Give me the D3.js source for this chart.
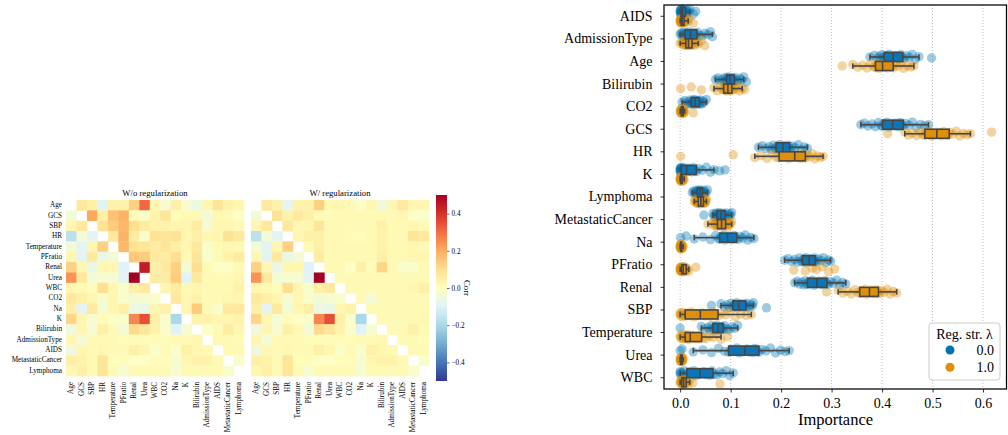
<!DOCTYPE html>
<html>
<head>
<meta charset="utf-8">
<script src="https://cdn.jsdelivr.net/npm/d3@7"></script>
<style>
  body { margin: 0; background: #fff; }
  svg { display: block; }
  text { font-family: "Liberation Serif", "DejaVu Serif", serif; fill: #000; }
</style>
</head>
<body>
<div id="chart"></div>
<script>
/* heatmap data: rows / columns in the same order */
const features = ["Age","GCS","SBP","HR","Temperature","PFratio","Renal","Urea","WBC","CO2","Na","K","Bilirubin","AdmissionType","AIDS","MetastaticCancer","Lymphoma"]

const corrNoReg = [
  [null,0.07,0.05,-0.1,0.04,0.04,0.13,0.31,0.03,-0.03,0.05,-0.03,-0.06,0.03,0.08,0.04,0.03],
  [-0.04,null,0.21,0.05,0.16,0.19,0.01,-0.02,0.04,0.08,0.01,0.02,0.02,-0.04,0.03,0.02,-0.01],
  [0.03,0.07,null,0.09,0.14,0.18,0.1,0.06,0.04,0.04,0.03,0.03,0.06,-0.03,0.03,0.03,0.02],
  [-0.17,-0.04,-0.09,null,0.07,0.19,0.06,-0.02,0.09,0.08,0.09,0.03,0.05,0.03,0.03,0.09,0.07],
  [-0.04,-0.09,0.03,0.13,null,0.18,0.09,0.08,0.06,0.08,0.05,0.03,0.07,-0.02,0.02,0.03,0.02],
  [0.03,-0.09,0.07,-0.07,-0.04,null,0.15,0.14,0.07,0.06,0.1,0.02,0.08,-0.02,0.02,0.04,0.06],
  [0.13,0.03,-0.07,0.03,0.03,-0.1,null,0.44,0.05,0.07,0.13,-0.04,0.1,0.02,-0.01,-0.01,0.02],
  [0.24,0.07,-0.04,-0.03,-0.03,-0.09,0.5,null,0.06,0.06,0.14,-0.1,0.07,0.02,0.02,0.02,0.03],
  [0.03,0.02,0.01,0.1,0.03,-0.02,0.05,0.07,null,0.03,0.06,0.02,0.03,0.02,0.02,0.02,0.04],
  [0.07,0.05,0.03,-0.03,0.03,-0.02,-0.04,-0.03,-0.02,null,0.07,0.03,0.04,0.02,0.02,0.03,0.03],
  [0.05,-0.09,0.07,-0.04,0.03,0.05,-0.06,-0.07,0.03,0.04,null,0.03,0.14,0.02,-0.02,0.07,0.07],
  [0.12,0.03,-0.03,0.01,-0.01,-0.02,0.26,0.35,0.05,-0.02,-0.2,null,0.04,0.04,0.03,0.03,0.04],
  [-0.05,0.03,-0.03,0.05,0.02,-0.04,0.11,0.08,0.04,-0.02,-0.1,-0.03,null,-0.01,0.02,0.06,0.03],
  [0.03,-0.04,0.02,0.02,0.02,0.01,0.01,0.01,0.01,0.01,0.02,0.02,0.03,null,0.02,0.02,0.01],
  [-0.05,0.03,0.02,0.03,0.02,0.02,0.05,0.03,-0.02,0.02,-0.02,0.05,0.03,0.02,null,0.02,0.02],
  [0.05,0.04,0.02,0.08,0.01,0.01,-0.01,-0.01,0.01,0.01,-0.03,0.03,0.04,0.04,0.02,null,-0.02],
  [0.03,0.05,0.02,0.08,0.02,-0.03,0.02,0.02,0.02,0.02,-0.03,0.02,0.02,0.02,0.02,-0.02,null]
]

const corrReg = [
  [null,0.07,0.04,-0.08,0.04,0.04,0.13,0.03,0.03,0.02,-0.01,0.03,-0.05,0.03,0.07,0.03,0.03],
  [-0.04,null,0.09,0.04,0.07,0.05,0.02,0.01,0.02,0.02,0.02,0.02,0.02,0.02,0.03,-0.01,-0.02],
  [0.03,0.07,null,0.07,0.03,0.03,0.08,0.02,0.02,0.02,0.02,0.02,0.05,0.02,0.02,0.03,0.02],
  [-0.17,-0.04,-0.09,null,0.03,0.05,0.05,0.02,0.02,0.01,0.01,0.02,0.04,0.02,0.02,0.08,0.07],
  [-0.04,-0.09,0.03,0.13,null,0.02,0.05,0.02,0.02,0.02,0.02,0.02,0.04,0.02,0.02,0.03,0.02],
  [0.03,-0.09,0.07,-0.07,-0.04,null,0.06,0.02,0.02,0.02,0.02,0.02,0.05,0.02,0.02,0.03,0.03],
  [0.13,0.03,-0.07,0.03,0.03,-0.1,null,0.02,0.02,-0.01,0.05,0.01,0.12,0.02,-0.02,-0.02,0.02],
  [0.24,0.07,-0.04,-0.03,-0.03,-0.09,0.5,null,0.02,0.02,0.02,0.02,0.02,0.02,0.02,0.02,0.02],
  [0.03,0.02,0.01,0.1,0.03,-0.02,0.05,0.07,null,0.02,0.02,0.02,0.02,0.02,0.02,0.03,0.05],
  [0.07,0.05,0.03,-0.03,0.03,-0.02,-0.04,-0.03,-0.02,null,0.02,-0.04,0.02,0.02,0.02,0.02,0.02],
  [0.05,-0.09,0.07,-0.04,0.03,0.05,-0.06,-0.07,0.03,0.04,null,0.02,0.02,0.02,0.02,0.02,0.02],
  [0.12,0.03,-0.03,0.01,-0.01,-0.02,0.26,0.35,0.05,-0.02,-0.2,null,0.02,0.02,0.02,0.02,0.03],
  [-0.05,0.03,-0.03,0.05,0.02,-0.04,0.11,0.08,0.04,-0.02,-0.1,-0.03,null,0.02,0.02,0.05,0.02],
  [0.03,-0.04,0.02,0.02,0.02,0.01,0.01,0.01,0.01,0.01,0.02,0.02,0.03,null,0.02,0.02,0.01],
  [-0.05,0.03,0.02,0.03,0.02,0.02,0.05,0.03,-0.02,0.02,-0.02,0.05,0.03,0.02,null,0.02,0.02],
  [0.05,0.04,0.02,0.08,0.01,0.01,-0.01,-0.01,0.01,0.01,-0.03,0.03,0.04,0.04,0.02,null,-0.02],
  [0.03,0.05,0.02,0.08,0.02,-0.03,0.02,0.02,0.02,0.02,-0.03,0.02,0.02,0.02,0.02,-0.02,null]
]

const corrTicks = [-0.4, -0.2, 0, 0.2, 0.4]

/* importance data: one list of runs per feature, per reg. strength */
const impFeatures = ["AIDS","AdmissionType","Age","Bilirubin","CO2","GCS","HR","K","Lymphoma","MetastaticCancer","Na","PFratio","Renal","SBP","Temperature","Urea","WBC"]
const lambdas = ["0.0", "1.0"]

const impLam0 = [
  [0.000,0.000,0.001,0.001,0.001,0.002,0.002,0.002,0.003,0.003,0.003,0.004,0.004,0.005,0.005,0.006,0.007,0.008,0.009,0.010,0.011,0.013,0.015,0.017,0.019,0.026,0.031],
  [0.000,0.002,0.004,0.006,0.007,0.008,0.009,0.011,0.013,0.015,0.017,0.019,0.020,0.021,0.023,0.025,0.027,0.029,0.031,0.034,0.038,0.043,0.049,0.055,0.060,0.064],
  [0.376,0.385,0.391,0.395,0.398,0.400,0.402,0.405,0.408,0.411,0.414,0.417,0.419,0.421,0.423,0.425,0.428,0.431,0.434,0.437,0.440,0.444,0.449,0.454,0.460,0.466,0.473,0.498],
  [0.070,0.075,0.080,0.084,0.087,0.090,0.092,0.093,0.094,0.095,0.096,0.097,0.098,0.099,0.100,0.101,0.102,0.104,0.106,0.108,0.111,0.114,0.118,0.122,0.126,0.131],
  [0.004,0.009,0.013,0.016,0.019,0.021,0.022,0.024,0.026,0.027,0.028,0.029,0.030,0.031,0.032,0.033,0.034,0.036,0.038,0.039,0.041,0.043,0.045,0.047,0.052],
  [0.358,0.365,0.372,0.380,0.387,0.393,0.398,0.401,0.404,0.407,0.410,0.413,0.416,0.419,0.421,0.424,0.427,0.430,0.433,0.436,0.439,0.442,0.447,0.453,0.460,0.468,0.476,0.484,0.492],
  [0.155,0.163,0.170,0.176,0.181,0.185,0.188,0.191,0.193,0.195,0.197,0.199,0.201,0.203,0.204,0.206,0.208,0.210,0.212,0.214,0.216,0.219,0.223,0.228,0.234,0.240,0.246,0.252],
  [0.000,0.000,0.000,0.001,0.001,0.001,0.001,0.002,0.003,0.004,0.005,0.007,0.009,0.011,0.013,0.015,0.017,0.020,0.023,0.026,0.029,0.032,0.037,0.044,0.052,0.060,0.067,0.078,0.089],
  [0.024,0.027,0.029,0.031,0.032,0.033,0.034,0.035,0.036,0.037,0.038,0.038,0.039,0.040,0.040,0.041,0.042,0.043,0.044,0.045,0.046,0.047,0.049,0.051,0.054],
  [0.047,0.065,0.067,0.069,0.071,0.072,0.073,0.075,0.076,0.077,0.078,0.080,0.081,0.082,0.083,0.084,0.085,0.087,0.089,0.091,0.093,0.095,0.098,0.100,0.102],
  [0.001,0.012,0.028,0.045,0.060,0.070,0.076,0.079,0.082,0.085,0.087,0.089,0.091,0.093,0.095,0.097,0.099,0.101,0.104,0.107,0.111,0.115,0.119,0.124,0.129,0.134,0.140,0.146],
  [0.207,0.214,0.221,0.227,0.232,0.236,0.240,0.243,0.245,0.247,0.249,0.251,0.253,0.255,0.256,0.258,0.260,0.262,0.264,0.266,0.267,0.270,0.274,0.279,0.284,0.289,0.294,0.298],
  [0.227,0.232,0.237,0.241,0.245,0.248,0.250,0.253,0.256,0.259,0.262,0.265,0.268,0.270,0.272,0.275,0.278,0.281,0.284,0.287,0.290,0.293,0.298,0.304,0.310,0.316,0.322,0.328],
  [0.062,0.081,0.087,0.093,0.097,0.101,0.104,0.106,0.108,0.110,0.112,0.114,0.115,0.117,0.119,0.121,0.123,0.125,0.128,0.131,0.134,0.137,0.140,0.143,0.145,0.171],
  [0.000,0.042,0.049,0.055,0.059,0.062,0.065,0.067,0.069,0.071,0.072,0.074,0.075,0.076,0.078,0.079,0.081,0.083,0.085,0.088,0.092,0.097,0.103,0.108,0.114],
  [0.000,0.004,0.026,0.045,0.062,0.076,0.088,0.096,0.102,0.107,0.112,0.117,0.121,0.125,0.128,0.132,0.136,0.140,0.144,0.148,0.152,0.156,0.162,0.170,0.179,0.189,0.199,0.208,0.216],
  [0.000,0.000,0.001,0.003,0.006,0.009,0.012,0.015,0.019,0.023,0.027,0.031,0.035,0.039,0.043,0.047,0.051,0.055,0.059,0.063,0.067,0.072,0.078,0.084,0.091,0.098,0.105]
]

const impLam1 = [
  [0.000,0.000,0.000,0.001,0.001,0.001,0.002,0.002,0.002,0.003,0.003,0.003,0.004,0.004,0.005,0.005,0.006,0.006,0.007,0.008,0.009,0.011,0.013,0.016,0.018,0.026],
  [0.000,0.003,0.005,0.007,0.009,0.010,0.011,0.012,0.013,0.014,0.015,0.016,0.016,0.017,0.018,0.019,0.020,0.021,0.022,0.024,0.027,0.030,0.033,0.036,0.042,0.049],
  [0.321,0.342,0.352,0.362,0.370,0.377,0.383,0.387,0.389,0.391,0.393,0.395,0.397,0.399,0.401,0.403,0.405,0.408,0.411,0.414,0.418,0.422,0.426,0.431,0.437,0.443,0.450,0.457,0.463],
  [0.001,0.022,0.042,0.067,0.073,0.079,0.084,0.087,0.089,0.090,0.091,0.092,0.093,0.094,0.095,0.096,0.097,0.098,0.099,0.100,0.102,0.104,0.107,0.110,0.114,0.118,0.123,0.128],
  [0.000,0.001,0.001,0.002,0.002,0.002,0.003,0.003,0.003,0.004,0.004,0.004,0.005,0.005,0.005,0.006,0.006,0.007,0.007,0.008,0.009,0.026],
  [0.411,0.445,0.452,0.460,0.468,0.475,0.480,0.484,0.487,0.490,0.494,0.498,0.501,0.504,0.507,0.510,0.513,0.516,0.519,0.522,0.526,0.530,0.534,0.540,0.547,0.554,0.561,0.568,0.575,0.617],
  [0.001,0.105,0.148,0.160,0.172,0.182,0.190,0.196,0.201,0.206,0.211,0.215,0.219,0.223,0.227,0.230,0.233,0.236,0.239,0.242,0.245,0.248,0.252,0.257,0.262,0.267,0.272,0.278,0.283],
  [0.000,0.000,0.000,0.001,0.001,0.001,0.001,0.002,0.002,0.002,0.002,0.003,0.003,0.003,0.004,0.004,0.005,0.005,0.006,0.007,0.008],
  [0.028,0.030,0.032,0.033,0.034,0.035,0.036,0.037,0.038,0.039,0.040,0.040,0.041,0.042,0.042,0.043,0.044,0.045,0.046,0.047,0.048,0.049,0.050,0.051,0.052],
  [0.055,0.065,0.067,0.069,0.071,0.072,0.074,0.075,0.077,0.078,0.079,0.081,0.082,0.083,0.084,0.085,0.086,0.088,0.090,0.092,0.094,0.096,0.098,0.100,0.102],
  [0.000,0.000,0.000,0.001,0.001,0.001,0.001,0.002,0.002,0.002,0.002,0.003,0.003,0.003,0.004,0.004,0.005,0.006],
  [0.000,0.000,0.000,0.001,0.001,0.001,0.002,0.002,0.002,0.003,0.003,0.003,0.004,0.004,0.004,0.005,0.005,0.005,0.006,0.006,0.006,0.007,0.007,0.008,0.008,0.009,0.009,0.010,0.010,0.011,0.012,0.014,0.017,0.031,0.225,0.248,0.262,0.270,0.281,0.294,0.306],
  [0.290,0.313,0.322,0.331,0.339,0.346,0.352,0.357,0.360,0.363,0.366,0.369,0.372,0.374,0.376,0.378,0.380,0.383,0.386,0.389,0.392,0.395,0.399,0.404,0.410,0.416,0.422,0.429],
  [0.000,0.000,0.001,0.002,0.004,0.005,0.007,0.010,0.014,0.018,0.022,0.027,0.032,0.036,0.040,0.044,0.049,0.054,0.060,0.065,0.069,0.075,0.082,0.090,0.099,0.109,0.120,0.131,0.141],
  [0.000,0.001,0.002,0.004,0.005,0.007,0.009,0.011,0.012,0.014,0.015,0.017,0.018,0.020,0.022,0.025,0.028,0.032,0.036,0.040,0.045,0.051,0.058,0.065,0.073,0.081,0.094],
  [0.000,0.000,0.001,0.001,0.001,0.002,0.002,0.002,0.003,0.003,0.003,0.004,0.004,0.005,0.005,0.006],
  [0.000,0.001,0.001,0.002,0.003,0.003,0.004,0.005,0.005,0.006,0.007,0.007,0.008,0.009,0.010,0.011,0.012,0.014,0.016,0.019,0.025,0.079]
]

const impTicks = [0, 0.1, 0.2, 0.3, 0.4, 0.5, 0.6]

const svg = d3.select("#chart").append("svg")
  .attr("width", 1008)
  .attr("height", 435)

/* RdYlBu_r colormap, -0.5 .. 0.5 */
const rdylbu = ["#313695","#4575b4","#74add1","#abd9e9","#e0f3f8","#ffffbf","#fee090","#fdae61","#f46d43","#d73027","#a50026"]
const color = d3.scaleLinear()
  .domain(d3.range(11).map(i => -0.5 + i * 0.1))
  .range(rdylbu)
  .interpolate(d3.interpolateRgb)
  .clamp(true)

const serif = "'Liberation Serif', 'DejaVu Serif', serif"
const hmTop = 200, hmBottom = 376

function drawHeatmap(matrix, left, right, title, rowLabels) {
  const hx = d3.scaleBand().domain(features).range([left, right])
  const hy = d3.scaleBand().domain(features).range([hmTop, hmBottom])
  const g = svg.append("g")

  const cells = []
  matrix.forEach((row, i) => row.forEach((v, j) => {
    if (v !== null) cells.push({ r: features[i], c: features[j], v })
  }))

  g.selectAll("rect")
    .data(cells)
    .join("rect")
    .attr("x", d => hx(d.c))
    .attr("y", d => hy(d.r))
    .attr("width", hx.bandwidth() + 0.4)
    .attr("height", hy.bandwidth() + 0.4)
    .attr("fill", d => color(d.v))

  if (rowLabels) {
    g.selectAll(".rowlab")
      .data(features)
      .join("text")
      .attr("x", left - 4)
      .attr("y", d => hy(d) + hy.bandwidth() / 2)
      .attr("text-anchor", "end")
      .attr("dominant-baseline", "central")
      .style("font-size", "7.2px")
      .style("font-family", serif)
      .text(d => d)
  }

  g.selectAll(".collab")
    .data(features)
    .join("text")
    .attr("transform", d => `translate(${hx(d) + hx.bandwidth() / 2},${hmBottom + 6}) rotate(-90)`)
    .attr("text-anchor", "end")
    .attr("dominant-baseline", "central")
    .style("font-size", "7.2px")
    .style("font-family", serif)
    .text(d => d)

  g.append("text")
    .attr("x", (left + right) / 2)
    .attr("y", 196)
    .attr("text-anchor", "middle")
    .style("font-size", "8.7px")
    .style("font-family", serif)
    .text(title)
}

drawHeatmap(corrNoReg, 66, 244, "W/o regularization", true)
drawHeatmap(corrReg, 251, 429, "W/ regularization", false)

/* colorbar */
const cb = d3.scaleLinear().domain([-0.5, 0.5]).range([381, 195])
const grad = svg.append("defs").append("linearGradient")
  .attr("id", "cbgrad")
  .attr("x1", 0).attr("y1", 1).attr("x2", 0).attr("y2", 0)
grad.selectAll("stop")
  .data(rdylbu)
  .join("stop")
  .attr("offset", (d, i) => i / 10)
  .attr("stop-color", d => d)

svg.append("rect")
  .attr("x", 436).attr("y", cb(0.5))
  .attr("width", 11).attr("height", cb(-0.5) - cb(0.5))
  .attr("fill", "url(#cbgrad)")

const cbAxis = svg.append("g")
  .attr("transform", "translate(447,0)")
  .call(d3.axisRight(cb).tickValues(corrTicks).tickFormat(d3.format(".1f")).tickSize(2.5).tickPadding(2))
cbAxis.select(".domain").remove()
cbAxis.selectAll("line").attr("stroke-width", 0.6)
cbAxis.selectAll("text")
  .style("font-size", "7.2px")
  .style("font-family", serif)

svg.append("text")
  .attr("transform", "translate(467,288) rotate(90)")
  .attr("text-anchor", "middle")
  .attr("dominant-baseline", "central")
  .style("font-size", "8.7px")
  .style("font-family", serif)
  .text("Corr")

/* importance plot */
const x = d3.scaleLinear().domain([-0.032, 0.6475]).range([664, 1007])
const y = d3.scaleBand().domain(impFeatures).range([5, 389])
const band = y.bandwidth()
const dodge = band * 0.2
const boxH = band * 0.4

const dotColors = ["#0173b2", "#de8f05"]
const boxColors = ["#0a76b8", "#e08f0a"]
const boxLine = "#474747"

/* fixed vertical jitter pattern for the strip dots */
const jitter = [0, -1.6, 1.3, -0.7, 2.0, -2.2, 0.8, 1.7, -1.2, 0.4, -2.6, 2.4, -0.3, 1.0]

svg.append("g")
  .selectAll("line")
  .data(impTicks)
  .join("line")
  .attr("x1", d => x(d)).attr("x2", d => x(d))
  .attr("y1", 5).attr("y2", 389)
  .attr("stroke", "#b0b0b0")
  .attr("stroke-width", 0.8)
  .attr("stroke-dasharray", "1,2")

const groups = []
impFeatures.forEach((f, i) => {
  [impLam0, impLam1].forEach((series, j) => {
    groups.push({ feature: f, hue: j, values: series[i] })
  })
})

const dots = svg.append("g")
groups.forEach(gr => {
  const cy = y(gr.feature) + band / 2 + (gr.hue === 0 ? -dodge : dodge)
  dots.selectAll(null)
    .data(gr.values)
    .join("circle")
    .attr("cx", d => x(d))
    .attr("cy", (d, k) => cy + jitter[k % jitter.length])
    .attr("r", 4.7)
    .attr("fill", dotColors[gr.hue])
    .attr("fill-opacity", 0.38)
})

const boxes = svg.append("g")
groups.forEach(gr => {
  const s = gr.values.slice().sort(d3.ascending)
  const q1 = d3.quantileSorted(s, 0.25)
  const med = d3.quantileSorted(s, 0.5)
  const q3 = d3.quantileSorted(s, 0.75)
  const iqr = q3 - q1
  const lo = d3.min(s.filter(v => v >= q1 - 1.5 * iqr))
  const hi = d3.max(s.filter(v => v <= q3 + 1.5 * iqr))
  const cy = y(gr.feature) + band / 2 + (gr.hue === 0 ? -dodge : dodge)
  const b = boxes.append("g")
    .attr("stroke", boxLine)
    .attr("stroke-width", 1.6)
  b.append("line").attr("x1", x(lo)).attr("x2", x(q1)).attr("y1", cy).attr("y2", cy)
  b.append("line").attr("x1", x(q3)).attr("x2", x(hi)).attr("y1", cy).attr("y2", cy)
  b.append("line").attr("x1", x(lo)).attr("x2", x(lo)).attr("y1", cy - boxH * 0.3).attr("y2", cy + boxH * 0.3)
  b.append("line").attr("x1", x(hi)).attr("x2", x(hi)).attr("y1", cy - boxH * 0.3).attr("y2", cy + boxH * 0.3)
  b.append("rect")
    .attr("x", x(q1)).attr("y", cy - boxH / 2)
    .attr("width", Math.max(x(q3) - x(q1), 0.5)).attr("height", boxH)
    .attr("fill", boxColors[gr.hue])
  b.append("line").attr("x1", x(med)).attr("x2", x(med)).attr("y1", cy - boxH / 2).attr("y2", cy + boxH / 2)
})

/* axes */
const xAxis = svg.append("g")
  .attr("transform", "translate(0,389)")
  .call(d3.axisBottom(x).tickValues(impTicks).tickFormat(d3.format(".1f")).tickSize(3.5).tickPadding(6))
xAxis.select(".domain").remove()
xAxis.selectAll("line").attr("stroke-width", 0.8)
xAxis.selectAll("text")
  .style("font-size", "14px")
  .style("font-family", serif)

const yAxis = svg.append("g")
  .attr("transform", "translate(664,0)")
  .call(d3.axisLeft(y).tickSize(3.5).tickPadding(8))
yAxis.select(".domain").remove()
yAxis.selectAll("line").attr("stroke-width", 0.8)
yAxis.selectAll("text")
  .style("font-size", "14px")
  .style("font-family", serif)

svg.append("rect")
  .attr("x", 664).attr("y", 5)
  .attr("width", 342.5).attr("height", 384)
  .attr("fill", "none")
  .attr("stroke", "#000")
  .attr("stroke-width", 1.25)

svg.append("text")
  .attr("x", 835.5)
  .attr("y", 425)
  .attr("text-anchor", "middle")
  .style("font-size", "16.5px")
  .text("Importance")

/* legend */
const legend = svg.append("g")
legend.append("rect")
  .attr("x", 929).attr("y", 323)
  .attr("width", 71).attr("height", 57)
  .attr("rx", 3)
  .attr("fill", "#fff").attr("fill-opacity", 0.8)
  .attr("stroke", "#cccccc")
  .attr("stroke-width", 1)
legend.append("text")
  .attr("x", 964.5).attr("y", 339)
  .attr("text-anchor", "middle")
  .style("font-size", "14px")
  .text("Reg. str. λ")
legend.selectAll("circle")
  .data(lambdas)
  .join("circle")
  .attr("cx", 950)
  .attr("cy", (d, i) => 350 + i * 17.3)
  .attr("r", 4.5)
  .attr("fill", (d, i) => dotColors[i])
legend.selectAll(".lab")
  .data(lambdas)
  .join("text")
  .attr("x", 994)
  .attr("y", (d, i) => 355 + i * 17.3)
  .attr("text-anchor", "end")
  .style("font-size", "14px")
  .text(d => d)
</script>
</body>
</html>
